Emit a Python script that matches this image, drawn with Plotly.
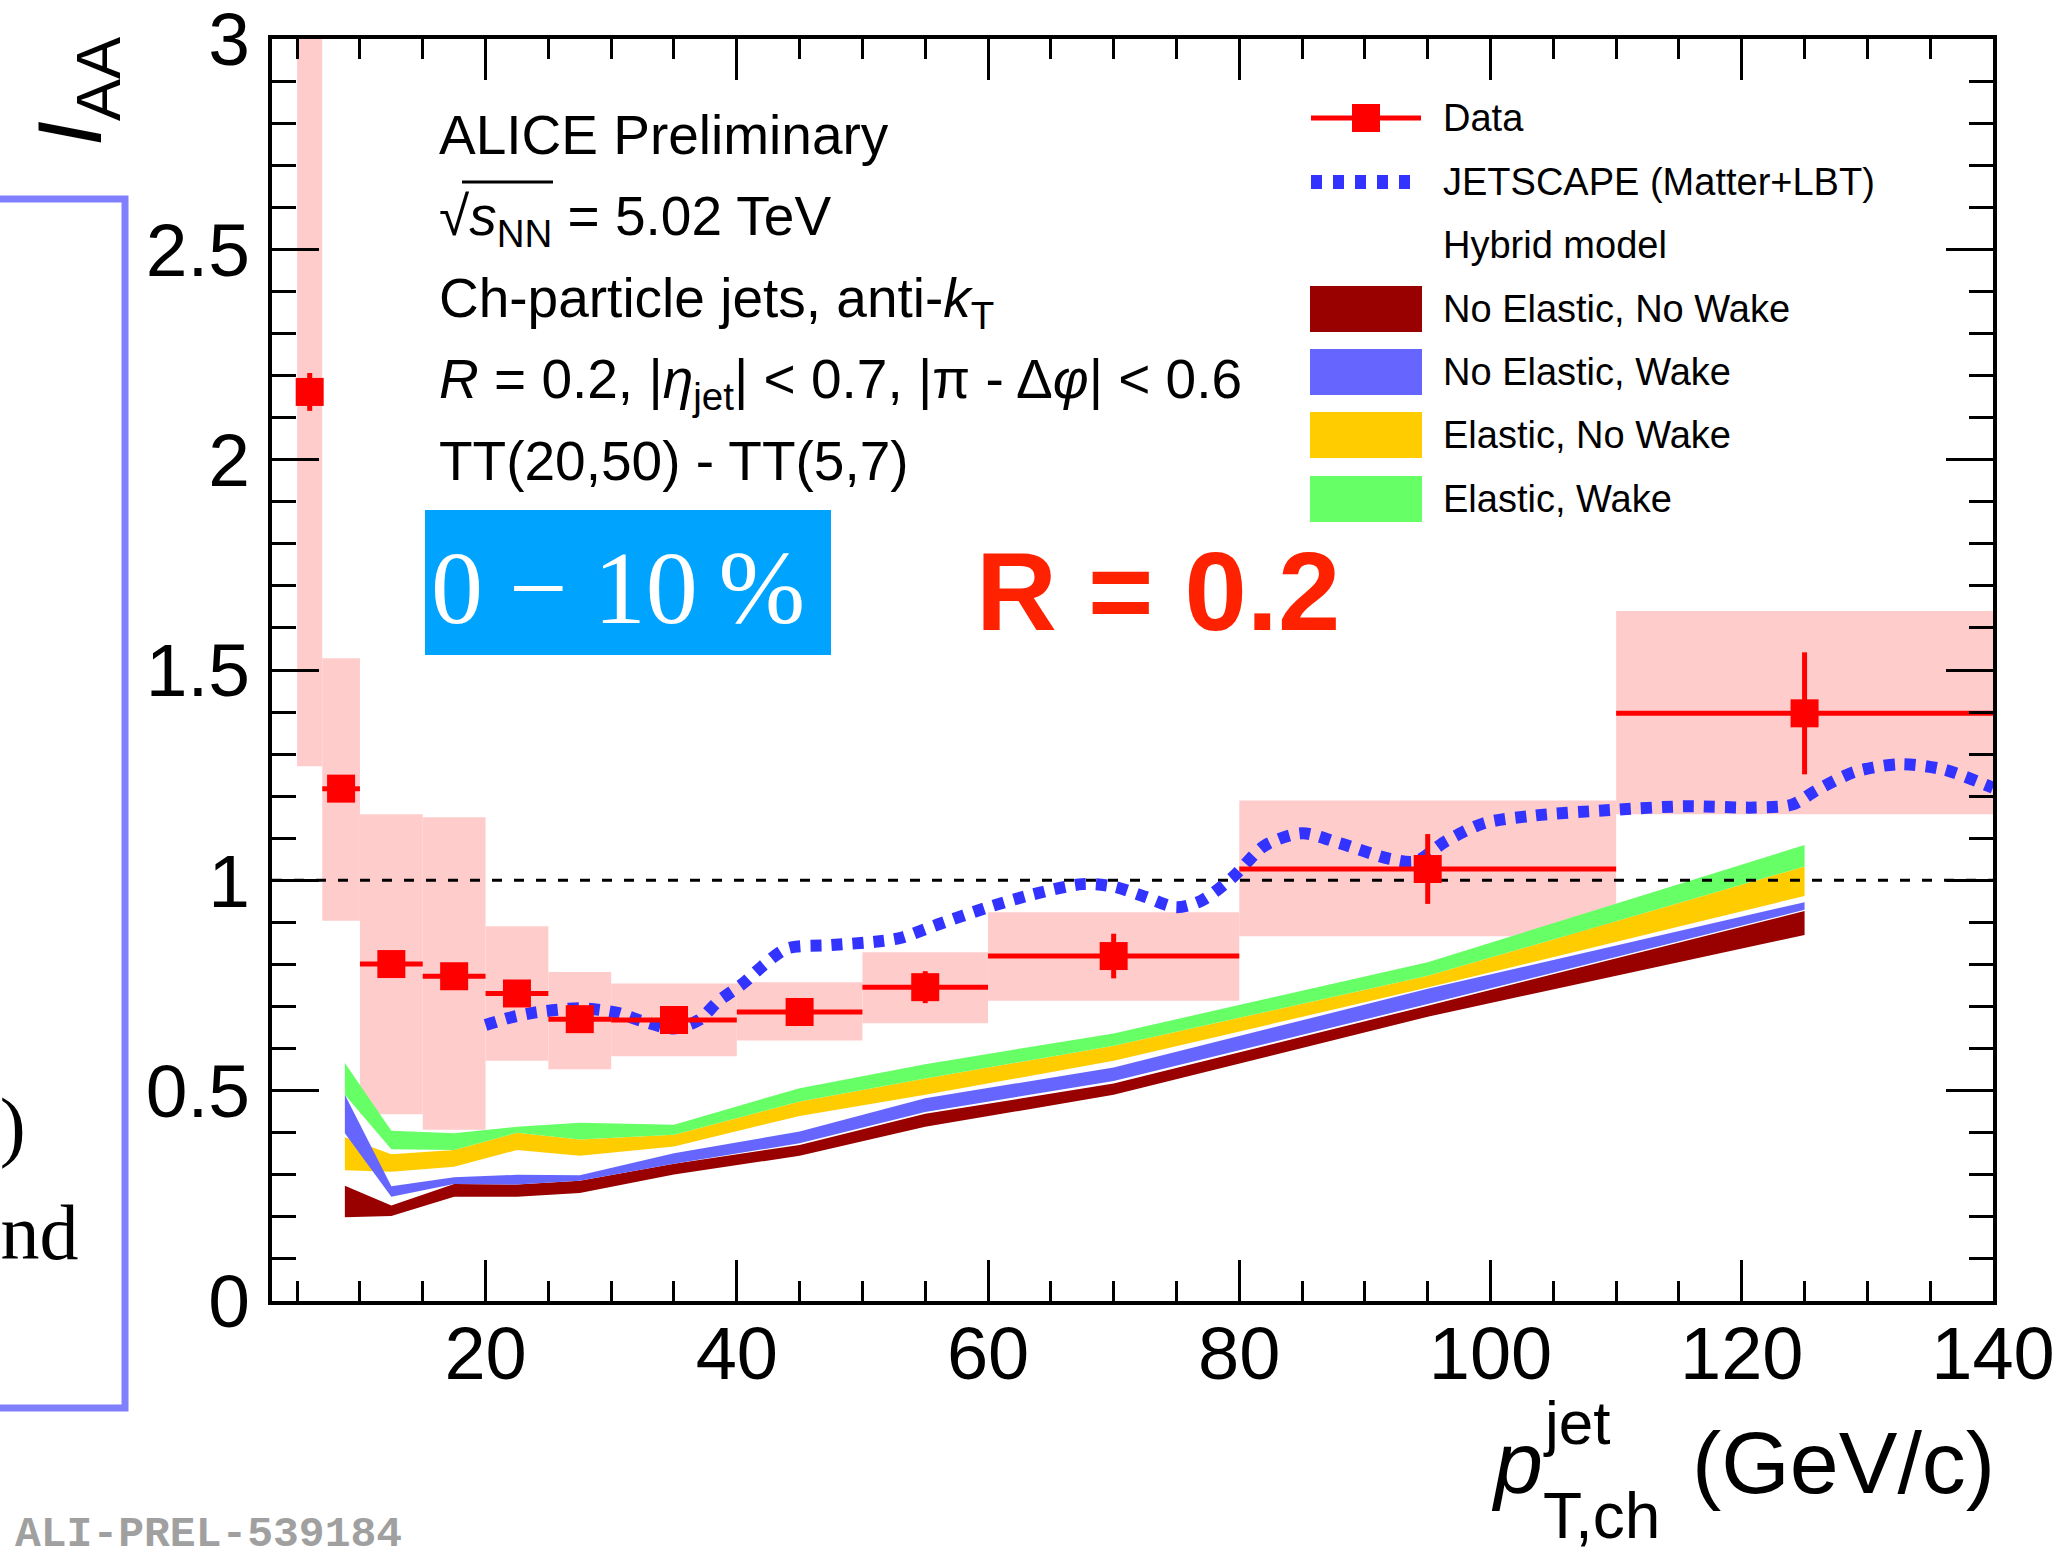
import plotly.graph_objects as go

SANS = "Liberation Sans, Arial, Helvetica, sans-serif"
SERIF = "Liberation Serif, Times New Roman, serif"
MONO = "Liberation Mono, Courier New, monospace"

# ---------------- data ----------------
pt_center = [6, 8.5, 12.5, 17.5, 22.5, 27.5, 35, 45, 55, 70, 95, 125]
pt_halfwidth = [1, 1.5, 2.5, 2.5, 2.5, 2.5, 5, 5, 5, 10, 15, 15]
iaa = [2.161, 1.218, 0.801, 0.772, 0.731, 0.670, 0.668, 0.687, 0.746, 0.820, 1.027, 1.397]
stat_err = [0.045, 0.025, 0.02, 0.02, 0.02, 0.02, 0.02, 0.025, 0.038, 0.053, 0.083, 0.145]
sys_up = [0.89, 0.31, 0.356, 0.378, 0.16, 0.112, 0.087, 0.071, 0.083, 0.104, 0.163, 0.243]
sys_down = [0.89, 0.314, 0.357, 0.365, 0.16, 0.119, 0.086, 0.068, 0.086, 0.106, 0.160, 0.240]

jet_x = [20, 22, 24, 27.5, 30.5, 32.5, 35, 37, 38.5, 40.5, 42, 44, 47.5, 51, 53, 56, 60,
         63.5, 67.5, 70, 72.5, 75, 77, 79.5, 82, 85, 88, 92, 94, 96.5, 99.5, 103.5, 109.5,
         115.5, 121, 124, 126, 129, 132.5, 136, 140]
jet_y = [0.656, 0.674, 0.686, 0.696, 0.685, 0.665, 0.648, 0.668, 0.712, 0.755, 0.795, 0.838,
         0.846, 0.854, 0.863, 0.895, 0.936, 0.966, 0.991, 0.985, 0.961, 0.936, 0.952, 1.008,
         1.082, 1.112, 1.088, 1.051, 1.045, 1.094, 1.136, 1.154, 1.167, 1.176, 1.173, 1.18,
         1.215, 1.258, 1.276, 1.264, 1.22]

hyb_x = [8.8, 12.5, 17.5, 22.5, 27.5, 35, 45, 55, 70, 95, 125]
nenw_lo = [0.199, 0.202, 0.248, 0.248, 0.257, 0.301, 0.345, 0.414, 0.490, 0.676, 0.870]
nenw_hi = [0.274, 0.227, 0.278, 0.277, 0.286, 0.326, 0.371, 0.445, 0.517, 0.702, 0.927]
new_lo = [0.399, 0.248, 0.278, 0.277, 0.286, 0.326, 0.375, 0.449, 0.523, 0.706, 0.930]
new_hi = [0.490, 0.273, 0.294, 0.300, 0.299, 0.351, 0.403, 0.482, 0.555, 0.742, 0.948]
enw_lo = [0.311, 0.307, 0.319, 0.359, 0.345, 0.367, 0.440, 0.490, 0.571, 0.745, 0.963]
enw_hi = [0.389, 0.349, 0.359, 0.400, 0.384, 0.395, 0.474, 0.529, 0.607, 0.773, 1.033]
ew_lo = [0.490, 0.361, 0.359, 0.400, 0.384, 0.395, 0.474, 0.529, 0.607, 0.773, 1.033]
ew_hi = [0.566, 0.405, 0.399, 0.414, 0.424, 0.419, 0.506, 0.563, 0.636, 0.805, 1.084]

x_ticks = [20, 40, 60, 80, 100, 120, 140]
y_ticks = [0, 0.5, 1, 1.5, 2, 2.5, 3]

# ---------------- style ----------------
C_DATA = "#ff0000"
C_SYS = "#ffcccc"
C_JET = "#3333ff"
C_NENW = "#990000"
C_NEW = "#6666ff"
C_ENW = "#ffcc00"
C_EW = "#66ff66"

W, H = 2060, 1556
L, R, T, B = 272, 1993, 39, 1301


def px(xp):
    return (xp - L) / (R - L)


def py(yp):
    return (B - yp) / (B - T)


fig = go.Figure()

# systematic boxes
fig.add_trace(go.Bar(
    x=pt_center,
    y=[u + d for u, d in zip(sys_up, sys_down)],
    base=[v - d for v, d in zip(iaa, sys_down)],
    width=[2 * w for w in pt_halfwidth],
    marker=dict(color=C_SYS, line=dict(width=0)),
    hoverinfo="skip", showlegend=False,
))


def band(lo, hi, color, name):
    fig.add_trace(go.Scatter(
        x=hyb_x + hyb_x[::-1], y=hi + lo[::-1],
        fill="toself", fillcolor=color, mode="lines",
        line=dict(width=0, color=color), name=name, showlegend=False,
    ))


band(enw_lo, enw_hi, C_ENW, "Elastic, No Wake")
band(nenw_lo, nenw_hi, C_NENW, "No Elastic, No Wake")
band(new_lo, new_hi, C_NEW, "No Elastic, Wake")
band(ew_lo, ew_hi, C_EW, "Elastic, Wake")

# unity line
fig.add_trace(go.Scatter(
    x=[3, 140], y=[1, 1], mode="lines",
    line=dict(color="black", width=3, dash="10px,12px"), showlegend=False,
))

# JETSCAPE
fig.add_trace(go.Scatter(
    x=jet_x, y=jet_y, mode="lines",
    line=dict(color=C_JET, width=12, dash="11px,10px", shape="spline", smoothing=0.8),
    name="JETSCAPE (Matter+LBT)", showlegend=False,
))

# data
fig.add_trace(go.Scatter(
    x=pt_center, y=iaa, mode="markers",
    marker=dict(symbol="square", size=28, color=C_DATA, line=dict(width=0)),
    error_x=dict(type="data", array=pt_halfwidth, thickness=5, width=0, color=C_DATA),
    error_y=dict(type="data", array=stat_err, thickness=5, width=0, color=C_DATA),
    name="Data", showlegend=False,
))

annotations = []
shapes = []


def ann(text, x, y, size, family=SANS, xanchor="left", yanchor="top", color="black", angle=0):
    annotations.append(dict(
        text=text, x=px(x), y=py(y), xref="paper", yref="paper",
        xanchor=xanchor, yanchor=yanchor, showarrow=False, textangle=angle,
        font=dict(size=size, family=family, color=color), borderpad=0,
    ))


def ann_base(text, x, baseline, size, **kw):
    ann(text, x, baseline - 0.905 * size, size, **kw)


# text block
fs = 55
ann_base("ALICE Preliminary", 438, 153, fs)
ann_base("\u221a<i>s</i><sub>NN</sub> = 5.02 TeV", 438, 234, fs)
ann_base("Ch-particle jets, anti-<i>k</i><sub>T</sub>", 438, 316, fs)
ann_base("<i>R</i> = 0.2, |<i>\u03b7</i><sub>jet</sub>| &lt; 0.7, |\u03c0 - \u0394<i>\u03c6</i>| &lt; 0.6", 438, 397, fs)
ann_base("TT(20,50) - TT(5,7)", 438, 479, fs)
# sqrt overline
shapes.append(dict(type="line", xref="paper", yref="paper",
                   x0=px(462), x1=px(553), y0=py(182), y1=py(182),
                   line=dict(color="black", width=3)))

# centrality box
shapes.append(dict(type="rect", xref="paper", yref="paper",
                   x0=px(425), x1=px(831), y0=py(510), y1=py(655),
                   fillcolor="#00a4ff", line=dict(width=0), layer="above"))
ann("0 \u2212 10\u2009%", 618, 587, 104, family=SERIF, xanchor="center", yanchor="middle", color="white")

# R = 0.2
ann_base("<b>R = 0.2</b>", 975, 629, 112, color="#ff2200")

# legend
lfs = 38
rows = [118, 182, 245, 309, 372, 435, 499]
shapes.append(dict(type="line", xref="paper", yref="paper", x0=px(1311), x1=px(1421),
                   y0=py(rows[0]), y1=py(rows[0]), line=dict(color=C_DATA, width=5)))
shapes.append(dict(type="rect", xref="paper", yref="paper", x0=px(1352), x1=px(1380),
                   y0=py(rows[0] - 14), y1=py(rows[0] + 14), fillcolor=C_DATA, line=dict(width=0)))
shapes.append(dict(type="line", xref="paper", yref="paper", x0=px(1311), x1=px(1411),
                   y0=py(rows[1]), y1=py(rows[1]), line=dict(color=C_JET, width=14, dash="11px,11px")))
for r, c in zip(rows[3:], [C_NENW, C_NEW, C_ENW, C_EW]):
    shapes.append(dict(type="rect", xref="paper", yref="paper", x0=px(1310), x1=px(1422),
                       y0=py(r - 23), y1=py(r + 23), fillcolor=c, line=dict(width=0)))
labels = ["Data", "JETSCAPE (Matter+LBT)", "Hybrid model", "No Elastic, No Wake",
          "No Elastic, Wake", "Elastic, No Wake", "Elastic, Wake"]
for r, t in zip(rows, labels):
    ann(t, 1442, r, lfs, yanchor="middle")

# axis titles
ann("<i>I</i><sub>AA</sub>", 76, 92, 90, xanchor="center", yanchor="middle", angle=-90)
ann_base("<i>p</i>", 1490, 1492, 88)
ann_base("jet", 1542, 1443, 62)
ann_base("T,ch", 1542, 1537, 64)
ann_base("(GeV/c)", 1996, 1492, 88, xanchor="right")

# slide artefacts at left
shapes.append(dict(type="path", xref="paper", yref="paper",
                   path="M %f,%f L %f,%f L %f,%f L %f,%f" % (px(-10), py(199), px(125), py(199),
                                                         px(125), py(1408), px(-10), py(1408)),
                   line=dict(color="#8080ff", width=7)))
ann_base("t)", 27, 1152, 78, family=SERIF, xanchor="right")
ann_base("and", 80, 1259, 78, family=SERIF, xanchor="right")
ann_base("<b>ALI-PREL-539184</b>", 14, 1548, 43, family=MONO, color="#a0a0a0")

fig.update_layout(
    width=W, height=H,
    margin=dict(l=L, r=W - R, t=T, b=H - B, pad=0, autoexpand=False),
    paper_bgcolor="white", plot_bgcolor="white",
    showlegend=False,
    annotations=annotations, shapes=shapes,
    xaxis=dict(
        range=[3, 140], tickvals=x_ticks, ticktext=[str(v) for v in x_ticks],
        ticks="inside", ticklen=41, tickwidth=3, tickcolor="black",
        minor=dict(dtick=5, tick0=0, ticks="inside", ticklen=20, tickwidth=3, tickcolor="black"),
        showline=True, linewidth=4, linecolor="black", mirror="ticks",
        showgrid=False, zeroline=False, automargin=False,
        tickfont=dict(size=74, family=SANS, color="black"),
        ticklabelstandoff=-15, ticklabeloverflow="allow",
    ),
    yaxis=dict(
        range=[0, 3], tickvals=y_ticks, ticktext=["0", "0.5", "1", "1.5", "2", "2.5", "3"],
        ticks="inside", ticklen=47, tickwidth=3, tickcolor="black",
        minor=dict(dtick=0.1, tick0=0, ticks="inside", ticklen=24, tickwidth=3, tickcolor="black"),
        showline=True, linewidth=4, linecolor="black", mirror="ticks",
        showgrid=False, zeroline=False, automargin=False,
        tickfont=dict(size=75, family=SANS, color="black"),
        ticklabelstandoff=3, ticklabeloverflow="allow",
    ),
)

fig.write_html("out.html")
